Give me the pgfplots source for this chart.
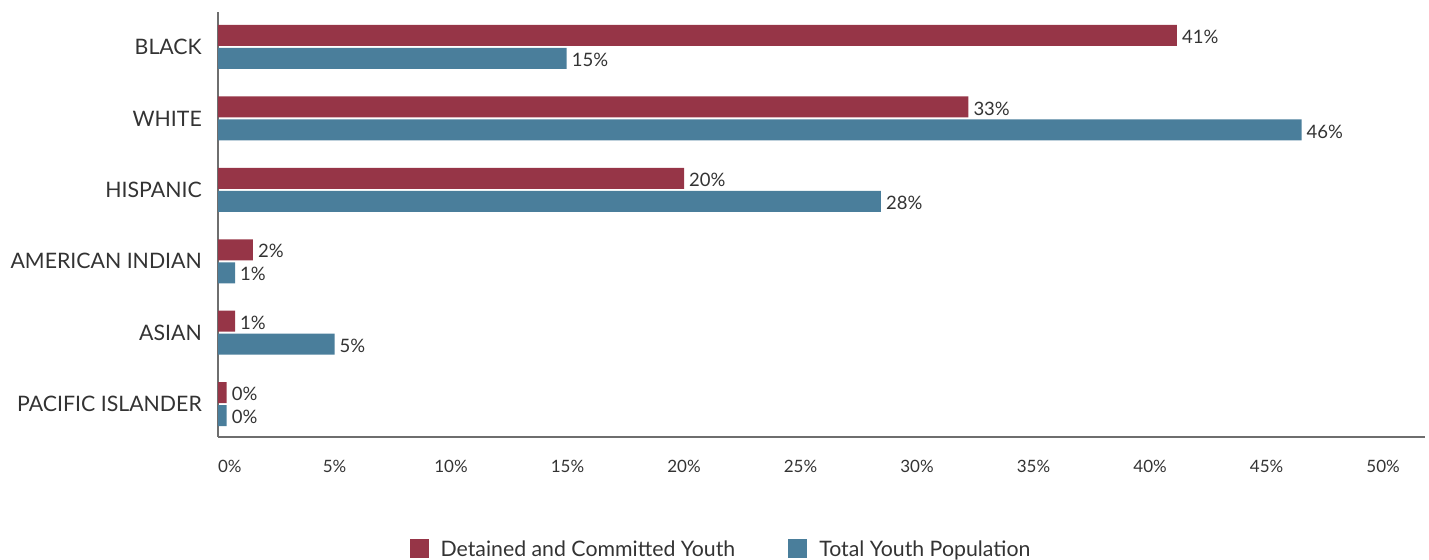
\documentclass[border=0pt]{standalone}
\usepackage{fontspec}
\setmainfont{Lato}
\usepackage{pgfplots}
\pgfplotsset{compat=1.18}
\definecolor{maroon}{HTML}{963547}
\definecolor{steel}{HTML}{4A7E9B}
\definecolor{txt}{HTML}{333333}
\definecolor{axisgray}{HTML}{6E6E6E}
\begin{document}
\begin{tikzpicture}
\path[use as bounding box] (0,0) rectangle (1429bp,560bp);
\begin{axis}[
  at={(218bp,123bp)}, anchor=south west,
  scale only axis, width=1207bp, height=425bp,
  xbar, bar width=21bp,
  xmin=0, xmax=51.8,
  ymin=-0.46, ymax=5.49,
  axis x line*=bottom, axis y line*=left,
  axis line style={draw=axisgray, line width=1.3bp},
  major tick length=0pt,
  xtick={0,5,10,15,20,25,30,35,40,45,50},
  xticklabels={{\makebox[0pt][l]{0\%}},5\%,10\%,15\%,20\%,25\%,30\%,35\%,40\%,45\%,50\%},
  ytick={0,1,2,3,4,5},
  yticklabels={PACIFIC ISLANDER,ASIAN,AMERICAN INDIAN,HISPANIC,WHITE,BLACK},
  xticklabel style={font=\fontsize{17bp}{20bp}\selectfont, text=txt, inner sep=0pt, anchor=north, yshift=-23bp},
  yticklabel style={font=\fontsize{21.3bp}{25bp}\selectfont, text=txt, inner sep=0pt, anchor=east, xshift=-16bp},
  nodes near coords,
  point meta=explicit symbolic,
  every node near coord/.append style={font=\fontsize{18.5bp}{22bp}\selectfont, text=txt, anchor=west, inner sep=0pt, xshift=5bp, yshift=-1.5bp},
  legend style={at={(0.4167,-0.2635)}, anchor=center, draw=none, fill=none,
    font=\fontsize{21.3bp}{25bp}\selectfont, text=txt,
    legend columns=2, /tikz/every even column/.append style={column sep=51bp},
    legend cell align=left},
  legend image code/.code={\fill[#1] (0bp,-9.5bp) rectangle (19bp,9.5bp); \path (29bp,0bp);},
]
\addplot[fill=maroon, draw=none, bar shift=11.5bp] coordinates {
  (41.15,5) [41\%]
  (32.2,4) [33\%]
  (20.0,3) [20\%]
  (1.5,2) [2\%]
  (0.73,1) [1\%]
  (0.37,0) [0\%]
};
\addplot[fill=steel, draw=none, bar shift=-11.5bp] coordinates {
  (14.96,5) [15\%]
  (46.5,4) [46\%]
  (28.45,3) [28\%]
  (0.73,2) [1\%]
  (5.0,1) [5\%]
  (0.37,0) [0\%]
};
\legend{Detained and Committed Youth,Total Youth Population}
\end{axis}
\end{tikzpicture}
\end{document}
